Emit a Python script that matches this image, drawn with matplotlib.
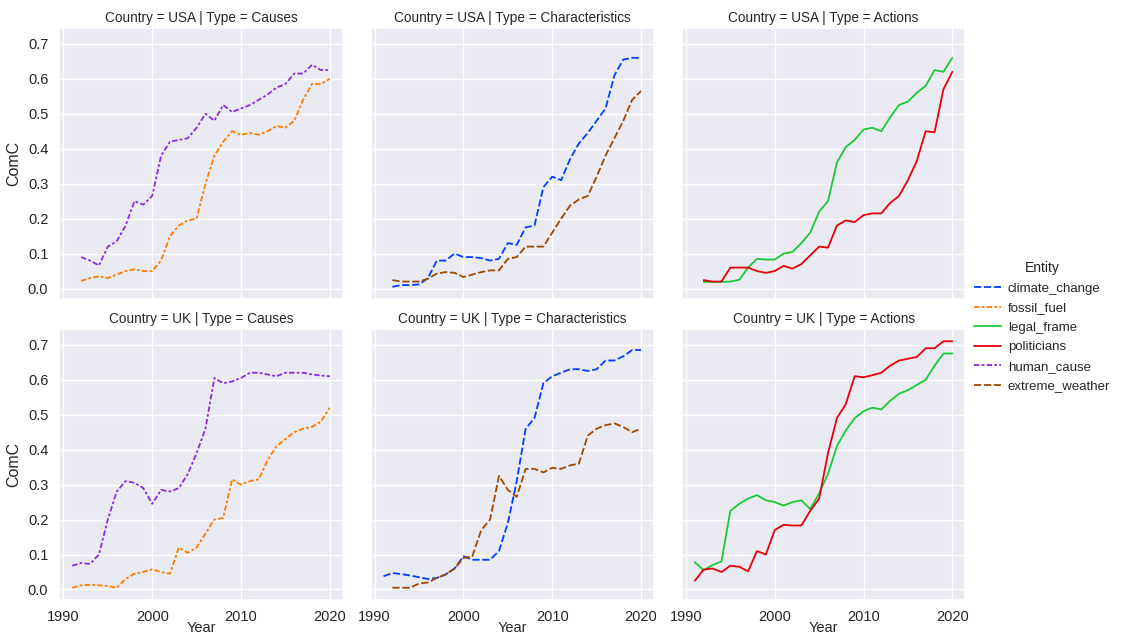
import matplotlib.pyplot as plt
import numpy as np
import seaborn as sns
from matplotlib.lines import Line2D

nan = np.nan
years = list(range(1991, 2021))
countries = ["USA", "UK"]
types = ["Causes", "Characteristics", "Actions"]
entities = ["climate_change", "fossil_fuel", "legal_frame",
            "politicians", "human_cause", "extreme_weather"]

# USA
usa_fossil_fuel = [nan, 0.022, 0.03, 0.035, 0.03, 0.04, 0.05, 0.055, 0.05, 0.05,
                   0.08, 0.15, 0.18, 0.195, 0.2, 0.3, 0.38, 0.42, 0.45, 0.44,
                   0.445, 0.44, 0.45, 0.465, 0.46, 0.48, 0.54, 0.585, 0.585, 0.6]
usa_human_cause = [nan, 0.09, 0.08, 0.066, 0.12, 0.135, 0.18, 0.25, 0.24, 0.265,
                   0.38, 0.42, 0.425, 0.43, 0.46, 0.5, 0.48, 0.525, 0.505, 0.515,
                   0.525, 0.54, 0.555, 0.575, 0.585, 0.615, 0.615, 0.64, 0.625, 0.625]
usa_climate_change = [nan, 0.005, 0.01, 0.01, 0.012, 0.03, 0.08, 0.08, 0.1, 0.09,
                      0.09, 0.087, 0.08, 0.085, 0.13, 0.125, 0.175, 0.18, 0.29, 0.32,
                      0.31, 0.37, 0.415, 0.445, 0.48, 0.515, 0.61, 0.655, 0.66, 0.66]
usa_extreme_weather = [nan, 0.024, 0.02, 0.02, 0.02, 0.028, 0.043, 0.047, 0.045, 0.033,
                       0.04, 0.047, 0.052, 0.052, 0.085, 0.09, 0.12, 0.12, 0.12, 0.16,
                       0.2, 0.237, 0.255, 0.265, 0.32, 0.38, 0.43, 0.48, 0.54, 0.565]
usa_legal_frame = [nan, 0.019, 0.019, 0.019, 0.02, 0.025, 0.06, 0.085, 0.083, 0.083,
                   0.1, 0.105, 0.13, 0.16, 0.22, 0.25, 0.36, 0.405, 0.425, 0.455,
                   0.46, 0.45, 0.49, 0.525, 0.535, 0.56, 0.58, 0.625, 0.62, 0.66]
usa_politicians = [nan, 0.024, 0.02, 0.02, 0.06, 0.06, 0.06, 0.05, 0.045, 0.05,
                   0.065, 0.057, 0.07, 0.095, 0.12, 0.117, 0.18, 0.195, 0.19, 0.21,
                   0.215, 0.215, 0.245, 0.265, 0.31, 0.365, 0.45, 0.447, 0.57, 0.62]

# UK
uk_fossil_fuel = [0.005, 0.012, 0.013, 0.012, 0.01, 0.005, 0.03, 0.045, 0.05, 0.058,
                  0.05, 0.045, 0.12, 0.105, 0.12, 0.16, 0.2, 0.205, 0.315, 0.3,
                  0.31, 0.315, 0.37, 0.41, 0.43, 0.45, 0.46, 0.465, 0.48, 0.52]
uk_human_cause = [0.068, 0.076, 0.073, 0.1, 0.2, 0.28, 0.31, 0.305, 0.29, 0.245,
                  0.285, 0.28, 0.29, 0.33, 0.39, 0.46, 0.605, 0.59, 0.595, 0.605,
                  0.62, 0.62, 0.615, 0.61, 0.62, 0.62, 0.62, 0.615, 0.612, 0.61]
uk_climate_change = [0.038, 0.047, 0.044, 0.04, 0.035, 0.03, 0.033, 0.043, 0.06, 0.095,
                     0.085, 0.085, 0.085, 0.11, 0.19, 0.31, 0.46, 0.49, 0.59, 0.61,
                     0.62, 0.63, 0.63, 0.625, 0.63, 0.655, 0.655, 0.667, 0.685, 0.685]
uk_extreme_weather = [nan, 0.005, 0.005, 0.005, 0.017, 0.02, 0.033, 0.043, 0.06, 0.09,
                      0.095, 0.17, 0.2, 0.325, 0.285, 0.265, 0.345, 0.345, 0.335, 0.348,
                      0.345, 0.355, 0.36, 0.44, 0.46, 0.47, 0.475, 0.465, 0.45, 0.46]
uk_legal_frame = [0.078, 0.055, 0.07, 0.08, 0.225, 0.245, 0.26, 0.27, 0.255, 0.25,
                  0.24, 0.25, 0.255, 0.23, 0.275, 0.33, 0.41, 0.455, 0.49, 0.51,
                  0.52, 0.515, 0.54, 0.56, 0.57, 0.585, 0.6, 0.64, 0.675, 0.675]
uk_politicians = [0.025, 0.057, 0.06, 0.05, 0.068, 0.065, 0.052, 0.11, 0.1, 0.17,
                  0.185, 0.183, 0.183, 0.225, 0.26, 0.39, 0.49, 0.53, 0.61, 0.607,
                  0.613, 0.62, 0.64, 0.655, 0.66, 0.665, 0.69, 0.69, 0.71, 0.71]

series = {
    ("USA", "Causes"): [("fossil_fuel", usa_fossil_fuel), ("human_cause", usa_human_cause)],
    ("USA", "Characteristics"): [("climate_change", usa_climate_change),
                                 ("extreme_weather", usa_extreme_weather)],
    ("USA", "Actions"): [("legal_frame", usa_legal_frame), ("politicians", usa_politicians)],
    ("UK", "Causes"): [("fossil_fuel", uk_fossil_fuel), ("human_cause", uk_human_cause)],
    ("UK", "Characteristics"): [("climate_change", uk_climate_change),
                                ("extreme_weather", uk_extreme_weather)],
    ("UK", "Actions"): [("legal_frame", uk_legal_frame), ("politicians", uk_politicians)],
}

sns.set_theme(style="darkgrid")
plt.rcParams["font.family"] = ["Liberation Sans", "DejaVu Sans"]

pal = sns.color_palette("bright")
colors = dict(zip(entities, pal))
styles = {
    "climate_change": (0, (4, 1.5)),
    "fossil_fuel": (0, (3, 1.25, 1.5, 1.25)),
    "legal_frame": "-",
    "politicians": "-",
    "human_cause": (0, (3, 1.25, 1.5, 1.25)),
    "extreme_weather": (0, (4, 1.5)),
}

fig, axes = plt.subplots(2, 3, figsize=(11.21, 6.37), dpi=100, sharex=True, sharey=True)
fig.subplots_adjust(left=0.053, right=0.861, top=0.956, bottom=0.058,
                    wspace=0.099, hspace=0.11)

for i, c in enumerate(countries):
    for j, t in enumerate(types):
        ax = axes[i, j]
        for name, vals in series[(c, t)]:
            ax.plot(years, vals, color=colors[name], linestyle=styles[name], lw=1.3)
        ax.set_title(f"Country = {c} | Type = {t}", fontsize=9.8, pad=4)
        ax.tick_params(labelsize=10.5, pad=2)
        ax.tick_params(axis="x", pad=1)
        if j == 0:
            ax.set_ylabel("ComC", fontsize=11.5, labelpad=5)
        if i == 1:
            ax.set_xlabel("Year", fontsize=10.5, labelpad=-2)

axes[0, 0].set_xticks([1990, 2000, 2010, 2020])
axes[0, 0].set_yticks(np.arange(0, 0.71, 0.1))
axes[0, 0].set_yticklabels([f"{v:.1f}" for v in np.arange(0, 0.71, 0.1)])

handles = [Line2D([], [], color=colors[e], linestyle=styles[e], lw=1.3) for e in entities]
fig.legend(handles, entities, title="Entity", loc="center left",
           bbox_to_anchor=(0.858, 0.487), frameon=False, fontsize=9.5,
           title_fontsize=10, handlelength=2.1, handletextpad=0.5,
           labelspacing=0.55)

fig.savefig("out.png", dpi=100)
